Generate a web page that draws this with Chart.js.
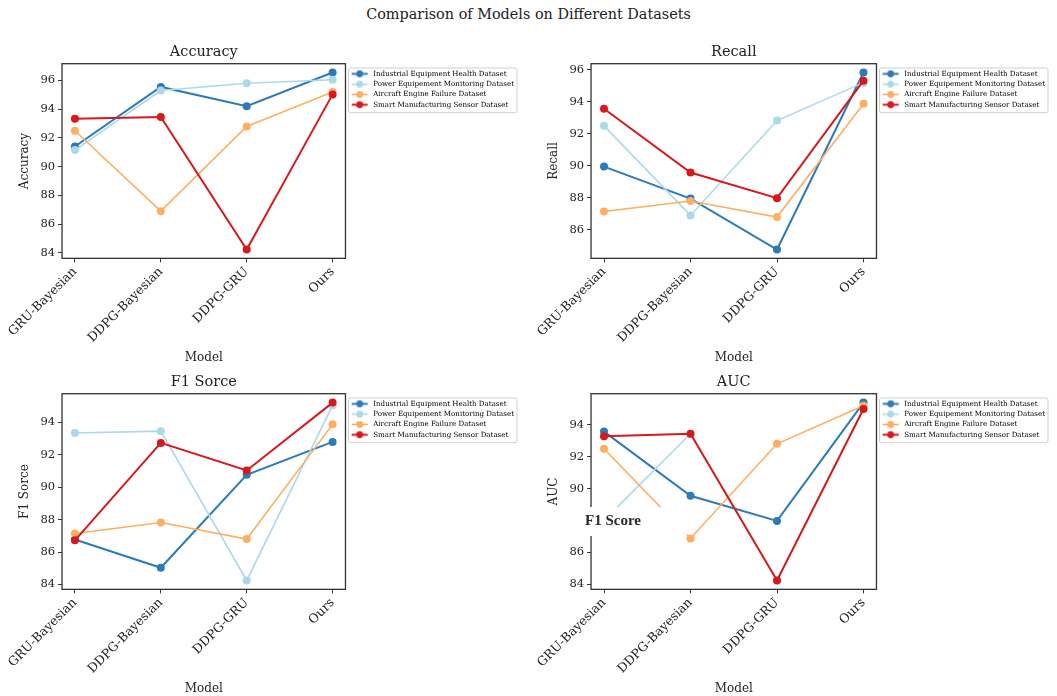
<!DOCTYPE html>
<html>
<head>
<meta charset="utf-8">
<script src="https://cdn.jsdelivr.net/npm/chart.js@4.4.0/dist/chart.umd.min.js"></script>
<style>
  body { margin: 0; background: #fff; width: 1057px; height: 696px; position: relative; overflow: hidden; }
  #suptitle { position: absolute; left: 0; top: 6px; width: 1057px; text-align: center;
              font-family: "DejaVu Serif", serif; font-size: 14.4px; color: #222; }
  canvas { position: absolute; }
</style>
</head>
<body>
<div id="suptitle">Comparison of Models on Different Datasets</div>
<canvas id="acc" width="529" height="330" style="left:0;top:35px"></canvas>
<canvas id="rec" width="528" height="330" style="left:529px;top:35px"></canvas>
<canvas id="f1" width="529" height="331" style="left:0;top:365px"></canvas>
<canvas id="auc" width="528" height="331" style="left:529px;top:365px"></canvas>
<script>
const models = ["GRU-Bayesian", "DDPG-Bayesian", "DDPG-GRU", "Ours"];
const datasetNames = [
  "Industrial Equipment Health Dataset",
  "Power Equipement Monitoring Dataset",
  "Aircraft Engine Failure Dataset",
  "Smart Manufacturing Sensor Dataset",
];
const colors = ["#2c7bb6", "#abd9e9", "#fdae61", "#d7191c"];
const widths = [2, 1.6, 1.6, 2];

// Accuracy
const accIndustrial = [91.4, 95.55, 94.2, 96.55];
const accPower = [91.15, 95.3, 95.8, 96.05];
const accAircraft = [92.5, 86.9, 92.8, 95.2];
const accSmart = [93.33, 93.45, 84.23, 95.03];
// Recall
const recIndustrial = [89.95, 87.95, 84.77, 95.83];
const recPower = [92.5, 86.9, 92.83, 95.2];
const recAircraft = [87.15, 87.8, 86.8, 93.88];
const recSmart = [93.57, 89.58, 87.98, 95.32];
// F1 Sorce
const f1Industrial = [86.77, 85.03, 90.75, 92.78];
const f1Power = [93.33, 93.44, 84.25, 95.03];
const f1Aircraft = [87.14, 87.82, 86.8, 93.86];
const f1Smart = [86.72, 92.72, 91.02, 95.2];
// AUC
const aucIndustrial = [93.58, 89.55, 87.97, 95.4];
const aucPower = [88.0, 93.44, 84.25, 95.03];
const aucAircraft = [92.5, 86.87, 92.81, 95.2];
const aucSmart = [93.28, 93.45, 84.23, 95.0];

const serif = '"DejaVu Serif", serif';
const ink = "#222";

function legendIcon(color, lw) {
  const c = document.createElement("canvas");
  c.width = 21; c.height = 9;
  const g = c.getContext("2d");
  g.strokeStyle = color; g.lineWidth = lw;
  g.beginPath(); g.moveTo(3, 4.5); g.lineTo(19, 4.5); g.stroke();
  g.fillStyle = color;
  g.beginPath(); g.arc(11, 4.5, 3.4, 0, Math.PI * 2); g.fill();
  return c;
}
const icons = colors.map((c, i) => legendIcon(c, widths[i]));

// spines on all four sides + legend frame
const framePlugin = {
  id: "frame",
  afterLayout(chart) {
    chart.legend.top += 3.4;
    chart.legend.bottom += 3.4;
  },
  beforeDraw(chart) {
    const lg = chart.legend;
    const ctx = chart.ctx;
    let right = 0;
    lg.legendHitBoxes.forEach(b => { right = Math.max(right, b.left + b.width); });
    const x = chart.chartArea.right + 3, y = chart.chartArea.top + 4.3;
    const w = right + 3 - x, h = 44.7;
    ctx.save();
    ctx.fillStyle = "#fff";
    ctx.strokeStyle = "#d0d0d0";
    ctx.lineWidth = 1;
    ctx.beginPath();
    ctx.roundRect(x, y, w, h, 2);
    ctx.fill();
    ctx.stroke();
    ctx.restore();
  },
  afterDatasetsDraw(chart) {
    const a = chart.chartArea;
    const ctx = chart.ctx;
    ctx.save();
    ctx.strokeStyle = "#333";
    ctx.lineWidth = 1.3;
    ctx.strokeRect(a.left, a.top, a.right - a.left, a.bottom - a.top);
    ctx.restore();
  }
};

// white patch with stray "F1 Score" label that sits on the AUC panel
const pastePlugin = {
  id: "paste",
  afterDraw(chart) {
    const ctx = chart.ctx;
    ctx.save();
    ctx.fillStyle = "#fff";
    ctx.fillRect(24, 142, 134, 29);
    ctx.font = 'bold 15px "Liberation Serif", serif';
    ctx.fillStyle = "#2a2a2a";
    ctx.textAlign = "center";
    ctx.textBaseline = "middle";
    ctx.fillText("F1 Score", 84, 156);
    ctx.restore();
  }
};

function makePanel(id, title, series, padRight, extra) {
  const all = series.flat();
  const lo = Math.min(...all), hi = Math.max(...all);
  const pad = (hi - lo) * 0.05;
  const plugins = [framePlugin];
  if (extra) plugins.push(extra);
  new Chart(document.getElementById(id), {
    type: "line",
    data: {
      datasets: series.map((vals, i) => ({
        label: datasetNames[i],
        data: vals.map((v, j) => ({ x: j, y: v })),
        borderColor: colors[i],
        backgroundColor: colors[i],
        borderWidth: widths[i],
        pointRadius: 4,
        pointBorderWidth: 0,
        pointBackgroundColor: colors[i],
        tension: 0,
        order: 3 - i,
      })),
    },
    options: {
      responsive: false,
      animation: false,
      layout: { padding: { left: 18, right: padRight, top: 0, bottom: 0 } },
      plugins: {
        title: {
          display: true, text: title, fullSize: false, color: ink,
          font: { family: serif, size: 14.5, weight: "normal" },
          padding: { top: 8.3, bottom: 3 },
        },
        legend: {
          position: "right", align: "start", fullSize: false, maxWidth: 230,
          labels: {
            usePointStyle: true, pointStyleWidth: 21, padding: 3.2, color: ink,
            font: { family: serif, size: 7.1 },
            generateLabels: chart => chart.data.datasets.map((ds, i) => ({
              text: ds.label, pointStyle: icons[i], datasetIndex: i,
              fillStyle: colors[i], strokeStyle: colors[i], lineWidth: 0, hidden: false,
            })),
          },
        },
        tooltip: { enabled: false },
      },
      scales: {
        x: {
          type: "linear", min: -0.15, max: 3.15,
          afterBuildTicks: s => { s.ticks = models.map((m, i) => ({ value: i })); },
          ticks: {
            callback: v => models[v], autoSkip: false, minRotation: 45, maxRotation: 45,
            color: ink, font: { family: serif, size: 12.5 }, padding: 2,
          },
          grid: { drawOnChartArea: false, tickLength: 4, color: "#333" },
          border: { display: false },
          title: {
            display: true, text: "Model", color: ink,
            font: { family: serif, size: 12 }, padding: { top: 3, bottom: 0 },
          },
        },
        y: {
          min: lo - pad, max: hi + pad,
          ticks: { stepSize: 2, includeBounds: false, color: ink, font: { family: serif, size: 11.5 }, padding: 3 },
          grid: { drawOnChartArea: false, tickLength: 4, color: "#333" },
          border: { display: false },
          title: {
            display: true, text: title, color: ink,
            font: { family: serif, size: 12 }, padding: { top: 0, bottom: 5 },
          },
        },
      },
    },
    plugins: plugins,
  });
}

makePanel("acc", "Accuracy", [accIndustrial, accPower, accAircraft, accSmart], 5);
makePanel("rec", "Recall", [recIndustrial, recPower, recAircraft, recSmart], 2);
makePanel("f1", "F1 Sorce", [f1Industrial, f1Power, f1Aircraft, f1Smart], 5);
makePanel("auc", "AUC", [aucIndustrial, aucPower, aucAircraft, aucSmart], 2, pastePlugin);
</script>
</body>
</html>
